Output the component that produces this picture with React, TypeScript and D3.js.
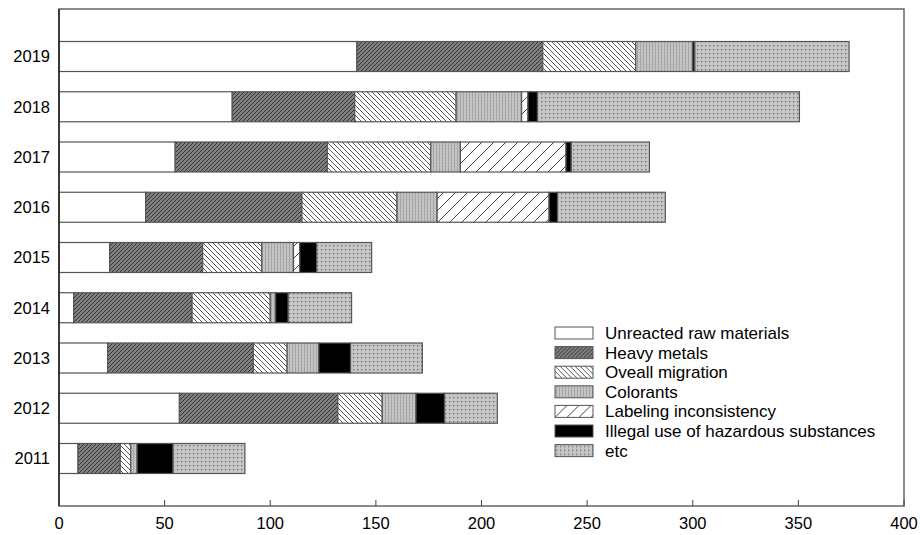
import React from 'react';
import * as d3 from 'd3';

const years = ['2019', '2018', '2017', '2016', '2015', '2014', '2013', '2012', '2011'];
const unreacted = [141, 82, 55, 41, 24, 7, 23, 57, 9];
const heavyMetals = [88, 58, 72, 74, 44, 56, 69, 75, 20];
const migration = [44, 48, 49, 45, 28, 37, 16, 21, 5];
const colorants = [27, 31, 14, 19, 15, 2.5, 15, 16, 3];
const labeling = [0, 3, 50, 53, 3, 0, 0, 0, 0];
const illegal = [1, 4.5, 2.5, 4, 8, 6, 15, 13.5, 17];
const etc = [73, 124, 37, 51, 26, 30, 34, 25, 34];
const xTicks = [0, 50, 100, 150, 200, 250, 300, 350, 400];

const seriesNames = [
  'Unreacted raw materials',
  'Heavy metals',
  'Oveall migration',
  'Colorants',
  'Labeling inconsistency',
  'Illegal use of hazardous substances',
  'etc',
];
const seriesValues = [unreacted, heavyMetals, migration, colorants, labeling, illegal, etc];
const fills = ['#ffffff', 'url(#p-heavy)', 'url(#p-mig)', 'url(#p-col)', 'url(#p-lab)', '#000000', 'url(#p-etc)'];

const W = 920;
const H = 535;
const left = 59;
const right = 904;
const top = 9;
const bottom = 506;
const font = '"Liberation Sans", Arial, sans-serif';

export default function App() {
  const x = d3.scaleLinear().domain([0, 400]).range([left, right]);
  const y = d3.scaleBand().domain(years).range([top, bottom]).paddingInner(0.403).paddingOuter(0.647);

  const table = years.map((yr, i) => {
    const row: any = { year: yr };
    seriesNames.forEach((k, j) => (row[k] = seriesValues[j][i]));
    return row;
  });
  const stacked = d3.stack().keys(seriesNames)(table);

  return (
    <svg width={W} height={H} style={{ position: 'absolute', left: 0, top: 0, fontFamily: font }}>
      <defs>
        <pattern id="p-heavy" width="4" height="4" patternUnits="userSpaceOnUse">
          <rect width="4" height="4" fill="#808080" />
          <path d="M-1,1 L1,-1 M0,4 L4,0 M3,5 L5,3" stroke="#2a2a2a" strokeWidth="0.9" />
        </pattern>
        <pattern id="p-mig" width="5" height="5" patternUnits="userSpaceOnUse">
          <rect width="5" height="5" fill="#fff" />
          <path d="M-1,4 L1,6 M0,0 L5,5 M4,-1 L6,1" stroke="#444" strokeWidth="0.9" />
        </pattern>
        <pattern id="p-lab" width="12" height="12" patternUnits="userSpaceOnUse">
          <rect width="12" height="12" fill="#fff" />
          <path d="M-2,2 L2,-2 M0,12 L12,0 M10,14 L14,10" stroke="#444" strokeWidth="1" />
        </pattern>
        <pattern id="p-col" width="3" height="3" patternUnits="userSpaceOnUse">
          <rect width="3" height="3" fill="#c6c6c6" />
          <rect x="1" width="0.8" height="3" fill="#9a9a9a" />
          <rect y="1" width="3" height="0.4" fill="#b0b0b0" />
        </pattern>
        <pattern id="p-etc" width="4" height="4" patternUnits="userSpaceOnUse">
          <rect width="4" height="4" fill="#c6c6c6" />
          <rect x="1" y="1" width="1.3" height="1.3" fill="#6a6a6a" />
        </pattern>
      </defs>

      {/* bars */}
      {stacked.map((s, j) => (
        <g key={s.key}>
          {s.map((d, i) =>
            d[1] - d[0] > 0 ? (
              <rect
                key={i}
                x={x(d[0])}
                y={y(years[i])}
                width={x(d[1]) - x(d[0])}
                height={y.bandwidth()}
                fill={fills[j]}
                stroke="#555"
                strokeWidth={1.2}
              />
            ) : null
          )}
        </g>
      ))}

      {/* frame */}
      <rect x={left} y={top} width={right - left} height={bottom - top} fill="none" stroke="#666" strokeWidth={1.5} />
      <line x1={left} x2={left} y1={top} y2={bottom} stroke="#222" strokeWidth={1.5} />

      {/* x axis */}
      {xTicks.map((t) => (
        <g key={t}>
          <line x1={x(t)} x2={x(t)} y1={bottom} y2={bottom - 6} stroke="#444" strokeWidth={1} />
          <text x={x(t)} y={529} textAnchor="middle" fontSize={16.5} fill="#000">
            {t}
          </text>
        </g>
      ))}

      {/* y labels */}
      {years.map((yr) => (
        <text
          key={yr}
          x={50}
          y={(y(yr) as number) + y.bandwidth() / 2}
          dy="0.35em"
          textAnchor="end"
          fontSize={16.5}
          fill="#000"
        >
          {yr}
        </text>
      ))}

      {/* legend */}
      {seriesNames.map((name, j) => (
        <g key={name} transform={`translate(555, ${327 + j * 19.6})`}>
          <rect width={38} height={12} fill={fills[j]} stroke="#555" strokeWidth={1} />
          <text x={50} y={6} dy="0.35em" fontSize={17} fill="#000">
            {name}
          </text>
        </g>
      ))}
    </svg>
  );
}
